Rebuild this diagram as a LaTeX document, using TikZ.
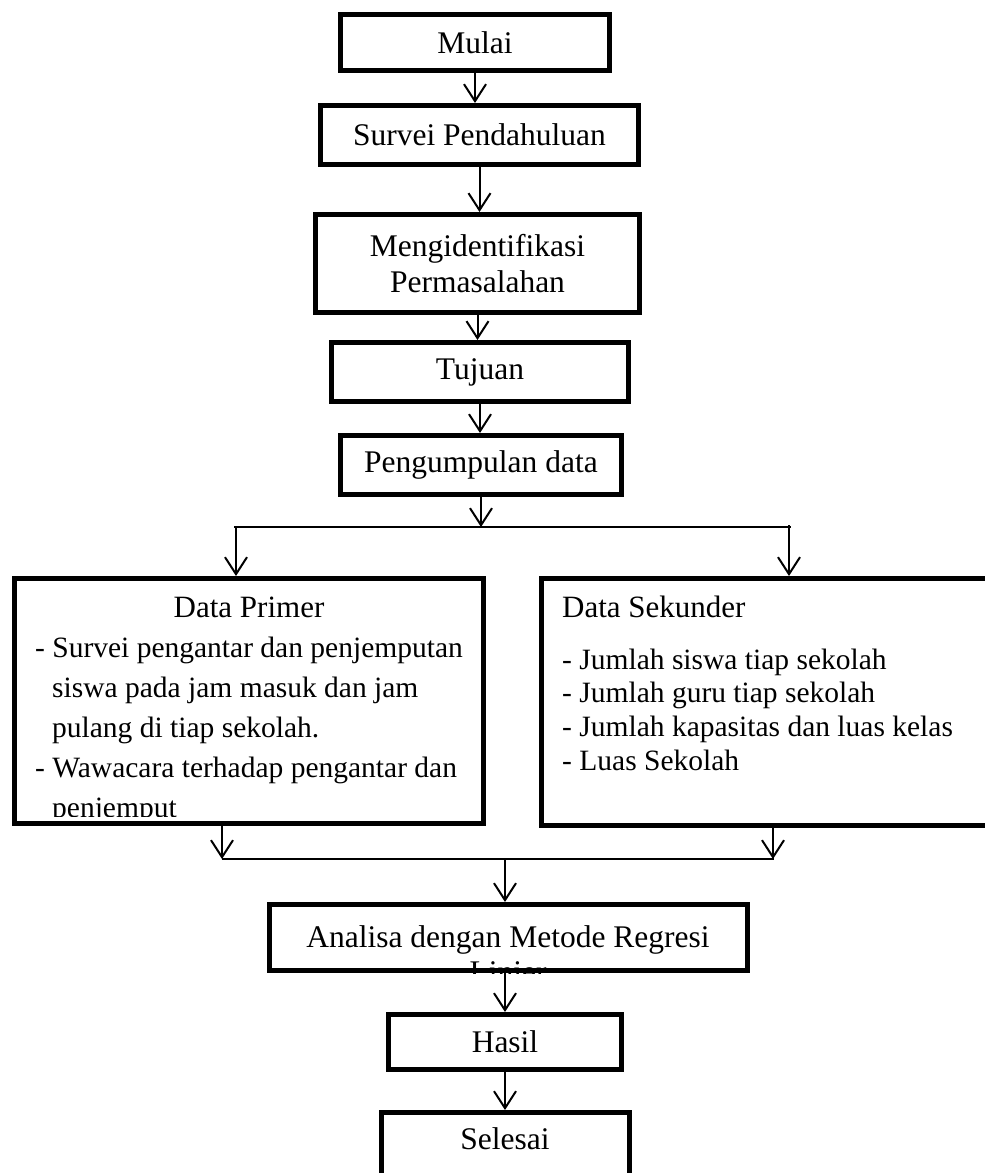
\documentclass[tikz,border=0pt]{standalone}
\usepackage{fontspec}
\setmainfont{Liberation Serif}
\usetikzlibrary{arrows.meta, positioning}

\begin{document}
\begin{tikzpicture}[
    x=1pt, y=-1pt,
    box/.style={draw, line width=5pt, inner sep=0pt, font=\fontsize{31.5}{36}\selectfont, align=center},
    headtext/.style={inner sep=0pt, font=\fontsize{31}{36}\selectfont},
    listtext/.style={inner sep=0pt, font=\fontsize{29.5}{40}\selectfont, align=flush left},
    arrow/.style={-{Straight Barb[length=17pt, width=22pt]}, line width=2pt},
    joinline/.style={line width=2pt}
]
    \useasboundingbox (0,0) rectangle (985,1173);

    % main column
    \node[box, minimum width=269, minimum height=56] (mulai) at (475,42.5) {Mulai};
    \node[box, minimum width=318, minimum height=59] (survei) at (479.5,135) {Survei Pendahuluan};
    \node[box, minimum width=324, minimum height=98] (ident) at (477.5,263.5) {Mengidentifikasi\\Permasalahan};
    \node[box, minimum width=297, minimum height=59] (tujuan) at (480,372) {Tujuan};
    \node[box, minimum width=281, minimum height=59] (kumpul) at (481,465) {Pengumpulan data};

    % data boxes
    \node[box, minimum width=469, minimum height=245] (primer) at (249,701) {};
    \node[box, minimum width=457, minimum height=247] (sekunder) at (770,702) {};

    \begin{scope}
        \clip (primer.north west) rectangle ([yshift=10pt]primer.south east);
        \node[headtext, anchor=base] (primerhead) at (249,617) {Data Primer};
        \node[listtext, text width=445pt, anchor=base west] (primerlist) at (35,657)
            {- Survei pengantar dan penjemputan\\
             \hspace*{17pt}siswa pada jam masuk dan jam\\
             \hspace*{17pt}pulang di tiap sekolah.\\
             - Wawacara terhadap pengantar dan\\
             \hspace*{17pt}penjemput};
    \end{scope}

    \node[headtext, anchor=base west] (sekunderhead) at (562,617) {Data Sekunder};
    \node[listtext, text width=420pt, anchor=base west, font=\fontsize{29.5}{33.7}\selectfont] (sekunderlist) at (562,669)
        {- Jumlah siswa tiap sekolah\\
         - Jumlah guru tiap sekolah\\
         - Jumlah kapasitas dan luas kelas\\
         - Luas Sekolah};

    % lower column
    \begin{scope}
        \clip (268,902) rectangle (750,973);
        \node[headtext, font=\fontsize{31.5}{36}\selectfont, anchor=base] (analisatext) at (508,947) {Analisa dengan Metode Regresi};
        \node[headtext, font=\fontsize{31.5}{36}\selectfont, anchor=base] (liniertext) at (508,982) {Linier};
    \end{scope}
    \node[box, minimum width=478, minimum height=66] (analisa) at (508.5,937.5) {};
    \node[box, minimum width=233, minimum height=55] (hasil) at (505,1042) {Hasil};
    \node[box, minimum width=248, minimum height=64, text depth=12pt] (selesai) at (505,1144.5) {Selesai};

    % connectors
    \coordinate (splitl) at (234,527);
    \coordinate (splitr) at (791,527);
    \coordinate (dropl) at (236,527);
    \coordinate (dropr) at (789,525);
    \coordinate (joinl) at (222,859);
    \coordinate (joinr) at (774,859);
    \coordinate (joinm) at (505,859);

    \draw[arrow] (mulai.south) -- (mulai.south |- survei.north);
    \draw[arrow] (survei.south) -- (survei.south |- ident.north);
    \draw[arrow] (ident.south) -- (ident.south |- tujuan.north);
    \draw[arrow] (tujuan.south) -- (tujuan.south |- kumpul.north);
    \draw[arrow] (kumpul.south) -- (kumpul.south |- splitl);
    \draw[joinline] (splitl) -- (splitr);
    \draw[arrow] (dropl) -- (dropl |- primer.north);
    \draw[arrow] (dropr) -- (dropr |- sekunder.north);

    \draw[arrow] (joinl |- primer.south) -- (joinl);
    \draw[arrow] ([xshift=-1pt]joinr |- sekunder.south) -- ([xshift=-1pt]joinr);
    \draw[joinline] (joinl) -- (joinr);
    \draw[arrow] (joinm) -- (joinm |- analisa.north);
    \draw[arrow] (hasil.north |- analisa.south) -- (hasil.north);
    \draw[arrow] (hasil.south) -- (hasil.south |- selesai.north);
\end{tikzpicture}
\end{document}
